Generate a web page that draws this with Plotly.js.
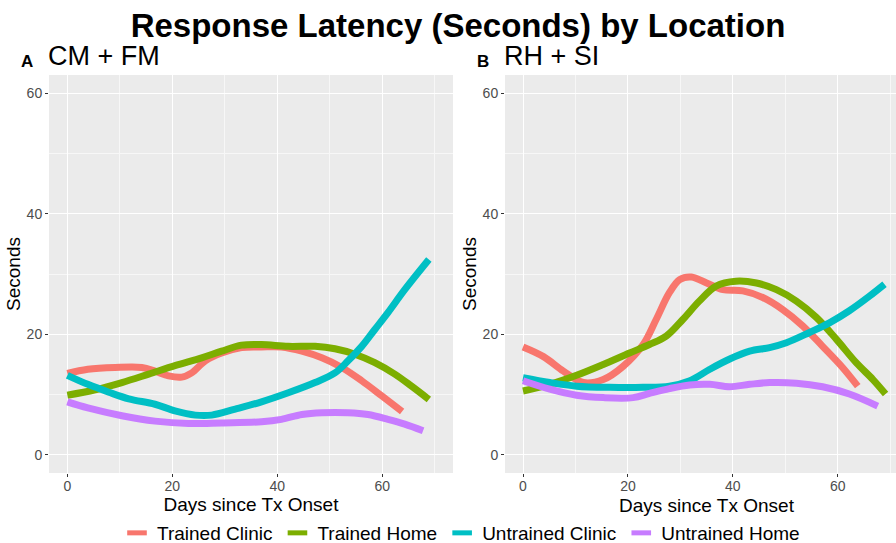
<!DOCTYPE html>
<html>
<head>
<meta charset="utf-8">
<script src="https://cdn.plot.ly/plotly-3.0.1.min.js"></script>
<style>
  html, body { margin: 0; padding: 0; background: #ffffff; overflow: hidden; }
  #chart { width: 896px; height: 552px; }
</style>
</head>
<body>
<div id="chart"></div>
<script>
// ---------- data ----------
const seriesNames = ["Trained Clinic", "Trained Home", "Untrained Clinic", "Untrained Home"];
const panelTitles = ["CM + FM", "RH + SI"];
const panelLetters = ["A", "B"];
const yTicks = [0, 20, 40, 60];
const xTicks = [0, 20, 40, 60];
const xTitle = "Days since Tx Onset";
const yTitle = "Seconds";
const mainTitle = "Response Latency (Seconds) by Location";

// Panel A (CM + FM)
const daysA_TC = [0, 3.9, 9.1, 14.2, 16.7, 19.3, 21.8, 23.7, 26.3, 29.4, 33.2, 37.0, 40.8, 44.7, 48.5, 52.3, 56.1, 59.9, 63.8];
const secA_TC  = [13.5, 14.2, 14.5, 14.5, 13.9, 13.1, 12.9, 13.6, 15.6, 16.9, 17.8, 17.9, 17.9, 17.2, 16.1, 14.5, 12.3, 9.8, 7.2];
const daysA_TH = [0, 5.3, 10.4, 15.5, 20.5, 25.6, 29.4, 33.2, 37.0, 42.1, 47.2, 51.0, 54.8, 58.6, 62.4, 65.6, 68.9];
const secA_TH  = [9.9, 10.8, 12.0, 13.4, 14.8, 16.1, 17.2, 18.2, 18.3, 18.0, 18.0, 17.6, 16.7, 15.3, 13.4, 11.4, 9.2];
const daysA_UC = [0, 3.9, 7.9, 11.7, 16.7, 20.5, 24.4, 27.5, 32.0, 37.0, 42.1, 47.2, 51.0, 53.5, 56.1, 58.6, 61.1, 64.3, 68.9];
const secA_UC  = [13.2, 11.7, 10.4, 9.3, 8.4, 7.3, 6.6, 6.6, 7.6, 8.8, 10.3, 12.0, 13.6, 15.6, 18.0, 20.8, 23.6, 27.4, 32.4];
const daysA_UH = [0, 3.9, 10.4, 16.7, 23.1, 29.4, 37.0, 40.8, 44.7, 48.5, 53.5, 57.3, 61.1, 64.3, 67.8];
const secA_UH  = [8.8, 7.8, 6.5, 5.6, 5.2, 5.3, 5.5, 5.9, 6.7, 7.0, 7.0, 6.7, 5.9, 5.1, 4.0];

// Panel B (RH + SI)
const daysB_TC = [0, 3.9, 7.7, 11.5, 15.3, 19.1, 22.9, 25.4, 27.9, 29.9, 32.1, 35.0, 38.1, 41.9, 45.7, 49.5, 53.3, 57.1, 60.9, 63.8];
const secB_TC  = [17.9, 16.3, 13.9, 12.0, 12.5, 14.7, 18.3, 22.5, 26.9, 29.1, 29.5, 28.5, 27.4, 27.2, 26.1, 24.1, 21.4, 18.0, 14.5, 11.4];
const daysB_TH = [0, 5.1, 10.2, 15.3, 20.3, 24.1, 27.3, 30.5, 33.6, 36.8, 40.6, 44.5, 48.3, 52.1, 55.9, 59.7, 63.5, 66.7, 69.1];
const secB_TH  = [10.6, 11.7, 13.2, 15.0, 16.9, 18.3, 19.7, 22.5, 25.5, 28.0, 28.8, 28.5, 27.4, 25.5, 22.8, 19.2, 15.3, 12.5, 10.1];
const daysB_UC = [0, 5.1, 10.2, 16.5, 22.9, 27.9, 31.8, 35.6, 39.4, 43.2, 47.0, 50.2, 54.6, 58.4, 62.2, 66.0, 68.9];
const secB_UC  = [12.8, 12.0, 11.4, 11.2, 11.2, 11.4, 12.3, 14.2, 15.9, 17.2, 17.8, 18.6, 20.3, 21.9, 23.9, 26.3, 28.3];
const daysB_UH = [0, 5.1, 10.2, 15.3, 21.0, 24.1, 27.9, 31.8, 35.6, 39.4, 43.2, 47.0, 52.1, 57.1, 62.2, 67.6];
const secB_UH  = [12.3, 10.9, 9.9, 9.5, 9.5, 10.2, 11.0, 11.6, 11.7, 11.3, 11.7, 12.0, 11.9, 11.3, 10.1, 8.1];

// ---------- styles ----------
const colors = ["#F8766D", "#7CAE00", "#00BFC4", "#C77CFF"];
const FONT = "Liberation Sans, Arial, Helvetica, sans-serif";
const W = 896, H = 552;   // layout is a little taller than the 543px window; only empty legend padding falls below
const py = function (p) { return (H - p) / H; };   // pixel-from-top -> paper fraction
const px = function (p) { return p / W; };

const panelA = [[daysA_TC, secA_TC], [daysA_TH, secA_TH], [daysA_UC, secA_UC], [daysA_UH, secA_UH]];
const panelB = [[daysB_TC, secB_TC], [daysB_TH, secB_TH], [daysB_UC, secB_UC], [daysB_UH, secB_UH]];

const traces = [];
function addPanel(panel, xa, ya) {
  panel.forEach(function (s, i) {
    traces.push({
      type: "scatter", mode: "lines",
      x: s[0], y: s[1], xaxis: xa, yaxis: ya,
      name: seriesNames[i], legendgroup: seriesNames[i], showlegend: false,
      line: { color: colors[i], width: 7, shape: "spline", smoothing: 1 },
      hoverinfo: "x+y+name"
    });
  });
}
addPanel(panelA, "x", "y");
addPanel(panelB, "x2", "y2");
// legend keys (ggplot-style short bars)
seriesNames.forEach(function (n, i) {
  traces.push({
    type: "scatter", mode: "markers", x: [null], y: [null], xaxis: "x", yaxis: "y",
    name: n, legendgroup: n, showlegend: true,
    marker: { symbol: "line-ew", size: 14, color: colors[i], line: { color: colors[i], width: 5 } }
  });
});

const yDom = [py(473), py(75)];
function xAxis(domain, range, anchor, title) {
  return {
    domain: domain, range: range, anchor: anchor,
    tickmode: "array", tickvals: xTicks, ticktext: xTicks.map(String),
    showgrid: true, gridcolor: "#FFFFFF", gridwidth: 1.1, zeroline: false,
    minor: { dtick: 10, tick0: 0, showgrid: true, gridcolor: "#F7F7F7", gridwidth: 0.6, ticks: "" },
    ticks: "outside", ticklen: 3, tickwidth: 1, tickcolor: "#333333",
    tickfont: { family: FONT, size: 14, color: "#4D4D4D" },
    ticklabelstandoff: -3,
    showline: false, automargin: false, fixedrange: true,
    title: title ? { text: title, font: { family: FONT, size: 19, color: "#000000" }, standoff: 2 } : { text: "" }
  };
}
function yAxis(anchor) {
  return {
    domain: yDom, range: [-3, 63], anchor: anchor,
    tickmode: "array", tickvals: yTicks, ticktext: yTicks.map(String),
    showgrid: true, gridcolor: "#FFFFFF", gridwidth: 1.1, zeroline: false,
    minor: { dtick: 10, tick0: 0, showgrid: true, gridcolor: "#F7F7F7", gridwidth: 0.6, ticks: "" },
    ticks: "outside", ticklen: 3, tickwidth: 1, tickcolor: "#333333",
    tickfont: { family: FONT, size: 14, color: "#4D4D4D" },
    showline: false, automargin: false, fixedrange: true,
    title: { text: yTitle, font: { family: FONT, size: 19, color: "#000000" }, standoff: 0 }
  };
}

const layout = {
  width: W, height: H,
  margin: { l: 0, r: 0, t: 0, b: 0, pad: 0 },
  paper_bgcolor: "#FFFFFF", plot_bgcolor: "#EBEBEB",
  font: { family: FONT, color: "#000000" },
  title: {
    text: "<b>" + mainTitle + "</b>",
    font: { family: FONT, size: 33, color: "#000000" },
    x: px(458), xanchor: "center", xref: "paper",
    y: 1 - 25 / H, yanchor: "middle", yref: "container"
  },
  xaxis: xAxis([px(49), px(453)], [-3.5, 73.5], "y", xTitle),
  yaxis: yAxis("x"),
  xaxis2: xAxis([px(505), 1], [-3.43, 71.09], "y2", null),
  yaxis2: yAxis("x2"),
  showlegend: true,
  legend: {
    orientation: "h", x: px(461), xanchor: "center", y: 0, yanchor: "bottom",
    font: { family: FONT, size: 19, color: "#000000" },
    bgcolor: "rgba(0,0,0,0)", itemclick: false, itemdoubleclick: false, traceorder: "normal"
  },
  annotations: [
    { text: "<b>" + panelLetters[0] + "</b>", xref: "paper", yref: "paper", x: px(19), y: py(61),
      xanchor: "left", yanchor: "middle", showarrow: false, font: { family: FONT, size: 17, color: "#000000" } },
    { text: panelTitles[0], xref: "paper", yref: "paper", x: px(46), y: py(56),
      xanchor: "left", yanchor: "middle", showarrow: false, font: { family: FONT, size: 27, color: "#000000" } },
    { text: "<b>" + panelLetters[1] + "</b>", xref: "paper", yref: "paper", x: px(475), y: py(61),
      xanchor: "left", yanchor: "middle", showarrow: false, font: { family: FONT, size: 17, color: "#000000" } },
    { text: panelTitles[1], xref: "paper", yref: "paper", x: px(502), y: py(56),
      xanchor: "left", yanchor: "middle", showarrow: false, font: { family: FONT, size: 27, color: "#000000" } },
    { text: xTitle, xref: "paper", yref: "paper", x: px(707), y: py(505),
      xanchor: "center", yanchor: "middle", showarrow: false, font: { family: FONT, size: 19, color: "#000000" } }
  ]
};

Plotly.newPlot("chart", traces, layout, { displayModeBar: false, responsive: false });
</script>
</body>
</html>
